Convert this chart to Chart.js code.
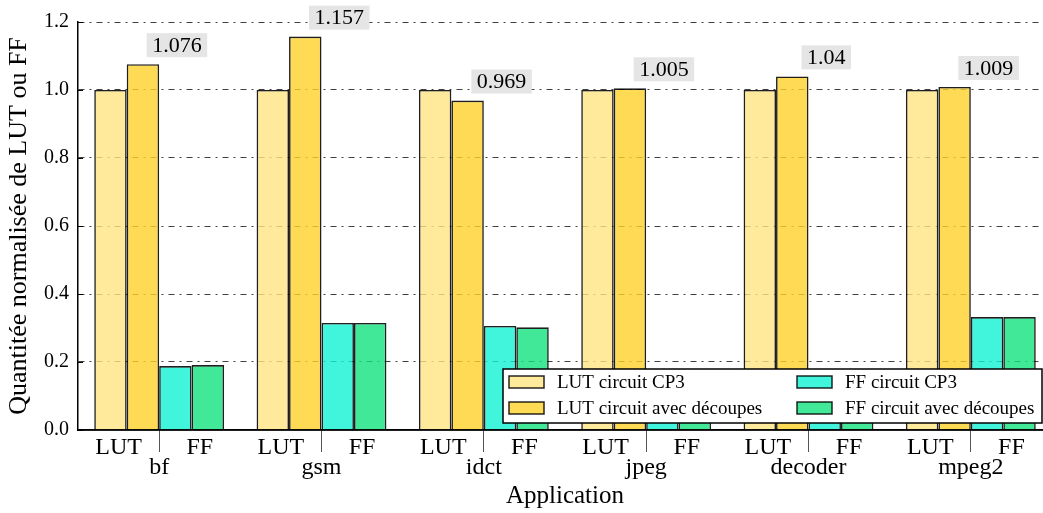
<!DOCTYPE html>
<html><head><meta charset="utf-8">
<script src="https://cdn.jsdelivr.net/npm/chart.js@4/dist/chart.umd.min.js"></script>
<style>
html,body{margin:0;padding:0;overflow:hidden;background:#fff}
#wrap{width:1052px;height:513px;position:relative}
</style>
</head><body><div id="wrap"><canvas id="c"></canvas></div>
<script>
const applications = ['bf', 'gsm', 'idct', 'jpeg', 'decoder', 'mpeg2'];
const subLabels = ['LUT', 'FF'];
const seriesNames = ['LUT circuit CP3', 'LUT circuit avec découpes', 'FF circuit CP3', 'FF circuit avec découpes'];
const lutCP3 = [1, 1, 1, 1, 1, 1];
const lutDecoupes = [1.076, 1.157, 0.969, 1.005, 1.04, 1.009];
const ffCP3 = [0.188, 0.315, 0.306, 0.15, 0.13, 0.332];
const ffDecoupes = [0.191, 0.315, 0.302, 0.15, 0.13, 0.332];
const yTicks = [0.0, 0.2, 0.4, 0.6, 0.8, 1.0, 1.2];

const SERIF = "'Liberation Serif', 'Times New Roman', serif";
const fills = ['rgba(255,228,130,0.8)', 'rgba(255,209,42,0.8)', 'rgba(16,242,211,0.8)', 'rgba(16,226,126,0.8)'];

const overlay = {
  id: 'overlay',
  afterDraw(chart) {
    const ctx = chart.ctx;
    const x = chart.scales.x, y = chart.scales.y;
    const area = chart.chartArea;
    ctx.save();
    // solid bottom spine
    ctx.strokeStyle = '#000'; ctx.lineWidth = 1.5;
    ctx.beginPath(); ctx.moveTo(area.left, area.bottom); ctx.lineTo(area.right, area.bottom); ctx.stroke();
    // inward y ticks
    ctx.lineWidth = 1;
    yTicks.forEach(v => {
      const py = Math.round(y.getPixelForValue(v)) + 0.5;
      ctx.beginPath(); ctx.moveTo(area.left, py); ctx.lineTo(area.left + 5, py); ctx.stroke();
    });
    // sub labels LUT / FF
    ctx.fillStyle = '#000';
    ctx.font = '24px ' + SERIF;
    ctx.textAlign = 'center'; ctx.textBaseline = 'alphabetic';
    const catW = x.width / applications.length;
    applications.forEach((a, i) => {
      const cx = x.getPixelForValue(i);
      ctx.fillText(subLabels[0], cx - catW / 4, area.bottom + 24);
      ctx.fillText(subLabels[1], cx + catW / 4, area.bottom + 24);
    });
    // annotations for LUT découpes
    const meta = chart.getDatasetMeta(1);
    ctx.font = '22px ' + SERIF;
    lutDecoupes.forEach((v, i) => {
      const el = meta.data[i];
      const txt = String(v);
      const w = ctx.measureText(txt).width + 11;
      const cx = el.x + 34, cy = el.y - 19;
      ctx.fillStyle = '#e5e5e5';
      ctx.fillRect(cx - w / 2, cy - 12, w, 24);
      ctx.fillStyle = '#000';
      ctx.textBaseline = 'middle';
      ctx.fillText(txt, cx, cy + 1);
    });
    // legend
    const lw = 539, lh = 54;
    const lx = area.right - 10 - lw, ly = area.bottom - 7 - lh;
    ctx.fillStyle = '#fff';
    ctx.fillRect(lx, ly, lw, lh);
    ctx.strokeStyle = '#000'; ctx.lineWidth = 1.5;
    ctx.strokeRect(lx, ly, lw, lh);
    ctx.font = '19px ' + SERIF;
    ctx.textAlign = 'left'; ctx.textBaseline = 'middle';
    chart.data.datasets.forEach((ds, k) => {
      const col = Math.floor(k / 2), row = k % 2;
      const px = lx + 6 + col * 288, py = ly + 7 + row * 26;
      ctx.fillStyle = '#fff'; ctx.fillRect(px, py, 35, 12);
      ctx.fillStyle = ds.backgroundColor; ctx.fillRect(px, py, 35, 12);
      ctx.strokeStyle = 'rgba(0,0,0,0.85)'; ctx.lineWidth = 1.5;
      ctx.strokeRect(px, py, 35, 12);
      ctx.fillStyle = '#000';
      ctx.fillText(ds.label, px + 48, py + 7);
    });
    ctx.restore();
  }
};

new Chart(document.getElementById('c'), {
  type: 'bar',
  data: {
    labels: applications,
    datasets: [lutCP3, lutDecoupes, ffCP3, ffDecoupes].map((d, k) => ({
      label: seriesNames[k],
      data: d,
      backgroundColor: fills[k],
      borderColor: 'rgba(0,0,0,0.88)',
      borderWidth: 1.6,
      categoryPercentage: 0.8,
      barPercentage: 1.0
    }))
  },
  options: {
    responsive: true,
    maintainAspectRatio: false,
    animation: false,
    layout: { padding: { top: 22, right: 0, left: 0, bottom: 0 } },
    plugins: { legend: { display: false }, tooltip: { enabled: false } },
    scales: {
      x: {
        afterFit(s) { s.height = 83; },
        grid: { drawOnChartArea: false, drawTicks: true, tickLength: 22, offset: false, color: '#555', lineWidth: 1 },
        border: { display: true, color: '#000', width: 1.5 },
        ticks: { color: '#000', font: { family: SERIF, size: 24 }, padding: 1, maxRotation: 0, autoSkip: false },
        title: { display: true, text: 'Application', color: '#000', font: { family: SERIF, size: 25 }, padding: { top: 0, bottom: 2 } }
      },
      y: {
        min: 0, max: 1.2,
        afterFit(s) { s.width = 78; },
        afterBuildTicks(s) { s.ticks = yTicks.map(v => ({ value: v })); },
        grid: { drawTicks: false, color: c => (c.tick && c.tick.value === 0 ? 'rgba(0,0,0,0)' : 'rgba(0,0,0,0.75)'), lineWidth: 1 },
        border: { display: true, color: '#000', width: 1.5, dash: [6, 5, 2, 5] },
        ticks: { color: '#000', font: { family: SERIF, size: 20 }, padding: 9, callback: v => v.toFixed(1) },
        title: { display: true, text: 'Quantitée normalisée de LUT ou FF', color: '#000', font: { family: SERIF, size: 26 }, padding: { top: 4, bottom: 0 } }
      }
    }
  },
  plugins: [overlay]
});
</script>
</body></html>
